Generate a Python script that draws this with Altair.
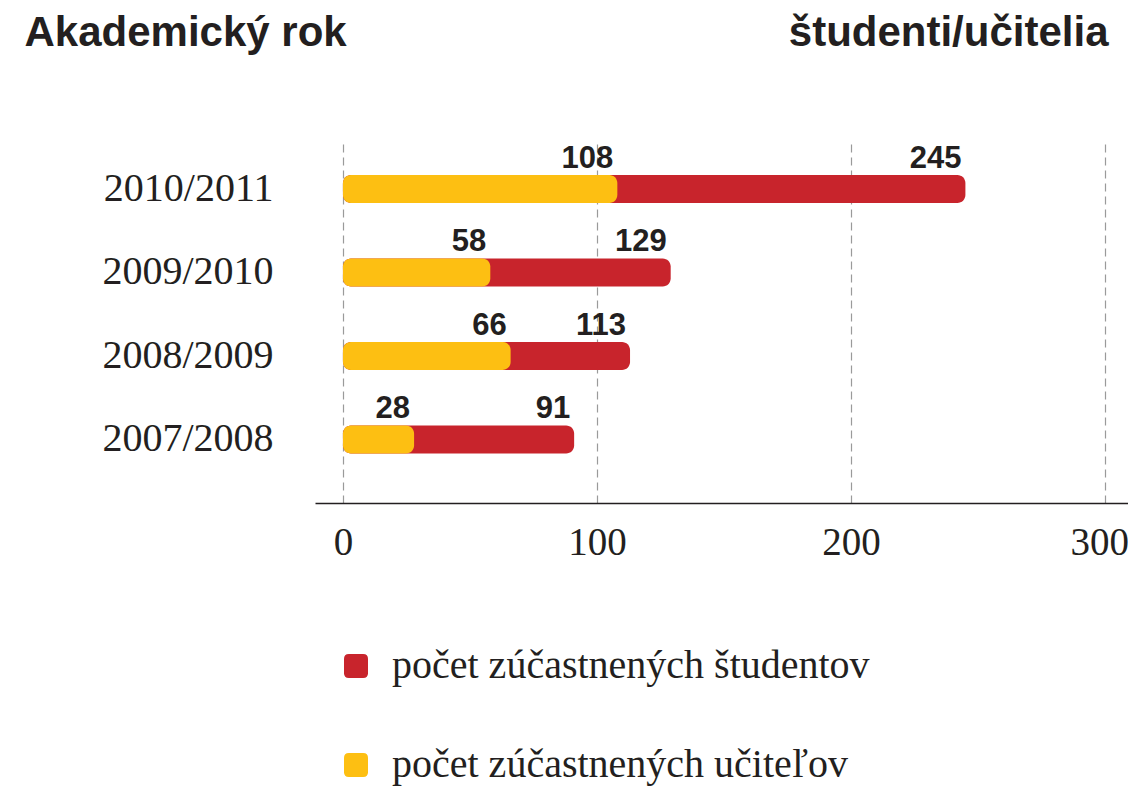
import altair as alt
import pandas as pd

years = ["2010/2011", "2009/2010", "2008/2009", "2007/2008"]
students = [245, 129, 113, 91]
teachers = [108, 58, 66, 28]
series_names = ["počet zúčastnených študentov", "počet zúčastnených učiteľov"]
colors = ["#C8242C", "#FDBF12"]
x_ticks = [0, 100, 200, 300]

rows = []
for y, s in zip(years, students):
    rows.append({"rok": y, "seria": series_names[0], "hodnota": s})
for y, t in zip(years, teachers):
    rows.append({"rok": y, "seria": series_names[1], "hodnota": t})
df = pd.DataFrame(rows)

serif = "Liberation Serif"
sans = "Liberation Sans"
ink = "#231F20"

rounded_square = ("M-0.6,-1 L0.6,-1 Q1,-1 1,-0.6 L1,0.6 Q1,1 0.6,1 "
                  "L-0.6,1 Q-1,1 -1,0.6 L-1,-0.6 Q-1,-1 -0.6,-1 Z")

x_enc = alt.X(
    "hodnota:Q",
    stack=None,
    scale=alt.Scale(domain=[-11, 309], nice=False, zero=False),
    axis=alt.Axis(
        values=x_ticks,
        title="študenti/učitelia",
        titleFont=sans, titleFontSize=42, titleFontWeight="bold", titleColor=ink,
        titleAngle=0, titleAlign="right", titleBaseline="alphabetic",
        titleX=793, titleY=-458,
        grid=True, gridColor="#9A9A9A", gridDash=[8, 5], gridWidth=1.2,
        ticks=False, domain=True, domainColor=ink, domainWidth=1.5,
        labelFont=serif, labelFontSize=39, labelColor=ink, labelPadding=20,
        labelBaseline="top", labelFlush=False,
        labelOffset={"condition": {"test": "datum.value === 300", "value": -6}, "value": 0},
    ),
)
y_enc = alt.Y(
    "rok:N",
    sort=years,
    scale=alt.Scale(paddingInner=0, paddingOuter=0.174, align=0.25),
    axis=alt.Axis(
        title="Akademický rok",
        titleFont=sans, titleFontSize=42, titleFontWeight="bold", titleColor=ink,
        titleAngle=0, titleAlign="left", titleBaseline="alphabetic",
        titleX=-291, titleY=-95,
        grid=False, ticks=False, domain=False,
        labelFont=serif, labelFontSize=40, labelColor=ink, labelPadding=42,
        labelAlign="right", labelBaseline="middle",
    ),
)

bars = alt.Chart(df).mark_bar(size=28, cornerRadius=8).encode(
    x=x_enc,
    y=y_enc,
    color=alt.Color(
        "seria:N",
        scale=alt.Scale(domain=series_names, range=colors),
        sort=series_names,
        legend=alt.Legend(
            title=None, orient="none", legendX=21, legendY=506, padding=0,
            direction="vertical",
            symbolType=rounded_square, symbolSize=576, symbolStrokeWidth=0,
            symbolOpacity=1,
            labelFont=serif, labelFontSize=40, labelColor=ink,
            labelOffset=16, rowPadding=59, labelLimit=0,
        ),
    ),
    order=alt.Order("hodnota:Q", sort="descending"),
)

labels = alt.Chart(df).mark_text(
    font=sans, fontSize=31, fontWeight="bold", color=ink,
    align="right", baseline="alphabetic", dx=-4, dy=-21,
).encode(
    x=alt.X("hodnota:Q", stack=None),
    y=alt.Y("rok:N", sort=years),
    text=alt.Text("hodnota:Q"),
)

chart = (
    alt.layer(bars, labels)
    .properties(
        width=813, height=363,
        autosize=alt.AutoSizeParams(type="none"),
        padding={"left": 307, "top": 132, "right": 0, "bottom": 286},
        background="white",
    )
    .configure_view(stroke=None, strokeWidth=0)
)

chart.save("out.html", embed_options={"renderer": "svg", "actions": False})
